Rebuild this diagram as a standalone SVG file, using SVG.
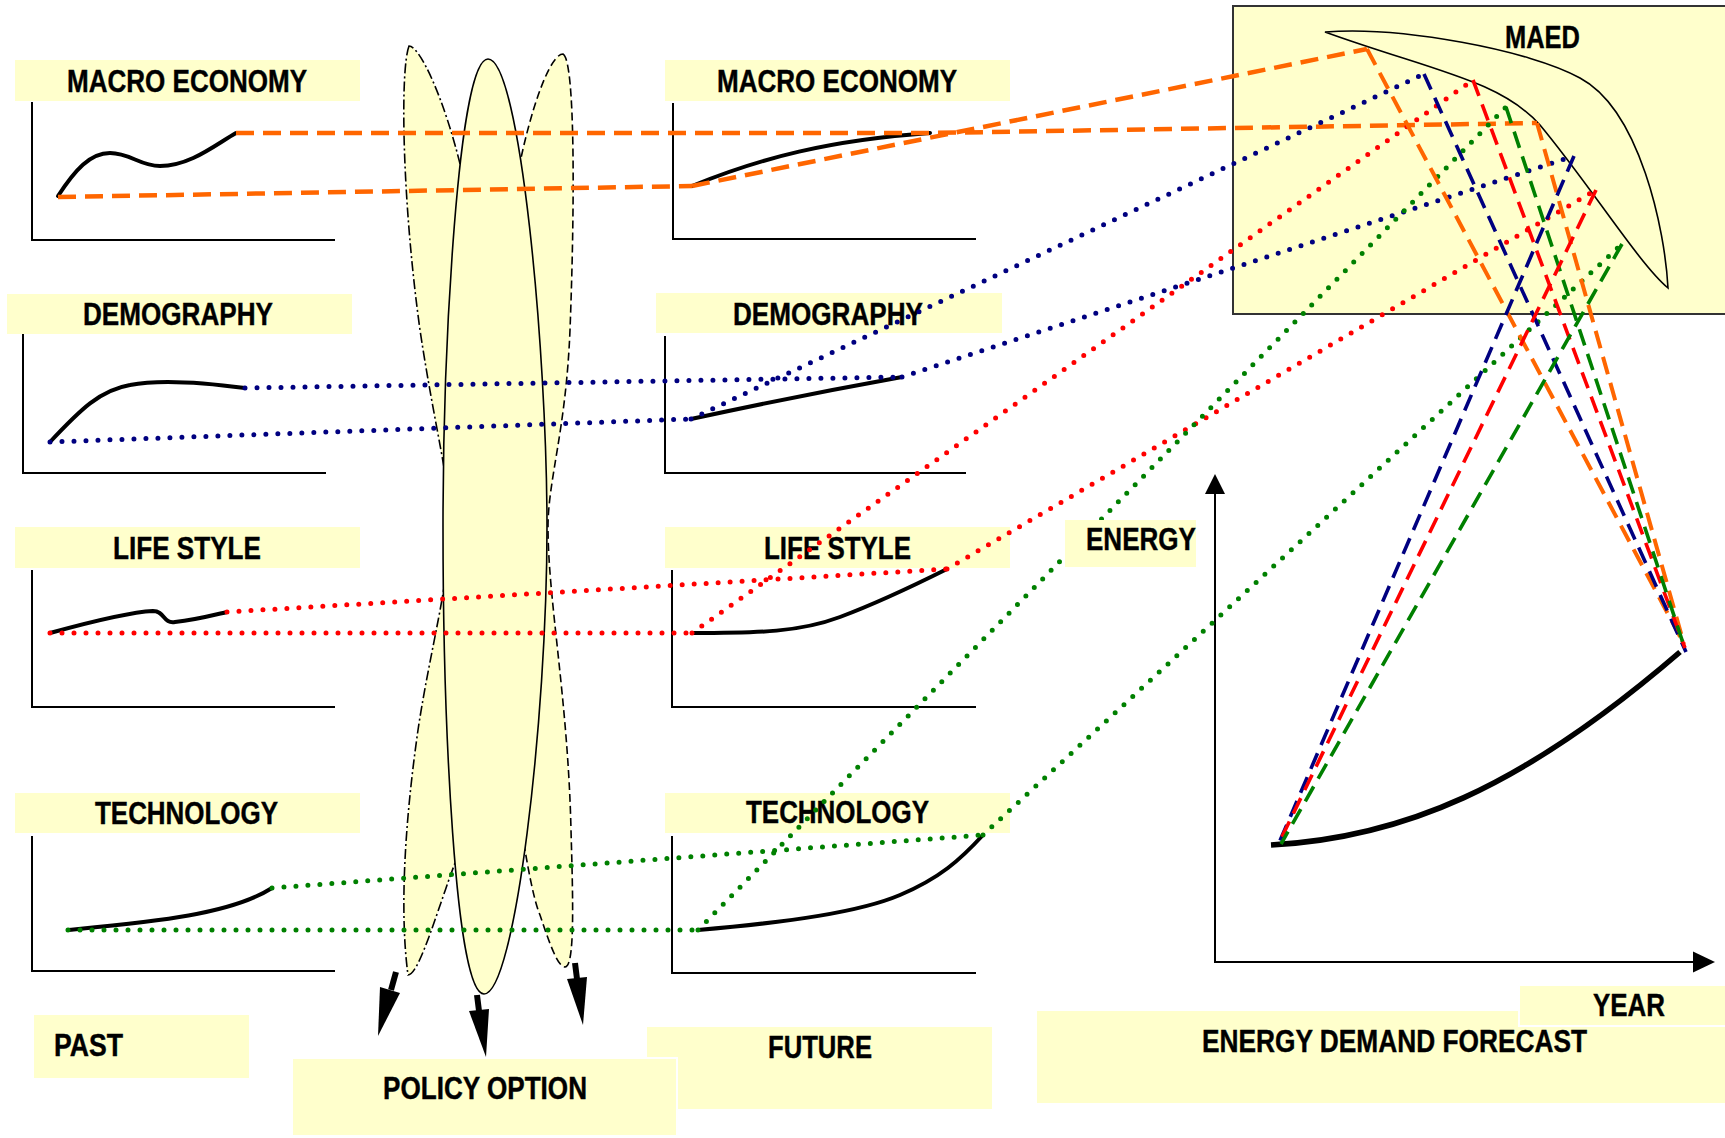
<svg xmlns="http://www.w3.org/2000/svg" width="1725" height="1138" viewBox="0 0 1725 1138">
<style>
.box{fill:#FFFFCC}
.wbox{fill:#FFFFCC;stroke:#FFFFFF;stroke-width:2}
.t{font-family:"Liberation Sans",Arial,sans-serif;font-weight:bold;font-size:31px;fill:#000;stroke:#000;stroke-width:0.4}
.ax{stroke:#000;stroke-width:2;fill:none}
.cv{stroke:#000;stroke-width:4;fill:none;stroke-linecap:round}
.lens{fill:#FFFFCC;stroke:#000;stroke-width:1.6}
.do{stroke:#FF6600;stroke-width:4.5;stroke-dasharray:18 9;fill:none}
.db{stroke:#000080;stroke-width:5;stroke-dasharray:0 12;stroke-linecap:round;fill:none}
.dr{stroke:#FF0000;stroke-width:5;stroke-dasharray:0 12;stroke-linecap:round;fill:none}
.dg{stroke:#008000;stroke-width:5;stroke-dasharray:0 12;stroke-linecap:round;fill:none}
.mo{stroke:#FF6600;stroke-width:4;stroke-dasharray:18 9;fill:none}
.mb{stroke:#000080;stroke-width:3.6;stroke-dasharray:17 9;fill:none}
.mr{stroke:#FF0000;stroke-width:3.6;stroke-dasharray:17 9;fill:none}
.mg{stroke:#008000;stroke-width:3.6;stroke-dasharray:17 9;fill:none}
</style>

<g id="past-macro">
<rect class="box" x="15" y="60" width="345" height="41"/>
<text class="t" x="67" y="92" textLength="240" lengthAdjust="spacingAndGlyphs">MACRO ECONOMY</text>
<path class="ax" d="M32,102 V240 H335"/>
<path class="cv" d="M58,196 C 75,170 90,153 110,153 C 130,153 140,166 160,166 C 190,166 215,145 236,133"/>
</g>
<g id="past-demography">
<rect class="box" x="7" y="294" width="345" height="40"/>
<text class="t" x="83" y="325" textLength="190" lengthAdjust="spacingAndGlyphs">DEMOGRAPHY</text>
<path class="ax" d="M23,334 V473 H326"/>
<path class="cv" d="M50,442 C 80,410 100,390 130,385 C 160,379 200,382 245,388"/>
</g>
<g id="past-lifestyle">
<rect class="box" x="15" y="527" width="345" height="41"/>
<text class="t" x="113" y="559" textLength="148" lengthAdjust="spacingAndGlyphs">LIFE STYLE</text>
<path class="ax" d="M32,570 V707 H335"/>
<path class="cv" d="M50,633 C 90,622 130,612 153,611 C 165,611 163,624 175,622 C 195,620 210,616 227,612"/>
</g>
<g id="past-technology">
<rect class="box" x="15" y="793" width="345" height="40"/>
<text class="t" x="95" y="824" textLength="183" lengthAdjust="spacingAndGlyphs">TECHNOLOGY</text>
<path class="ax" d="M32,836 V971 H335"/>
<path class="cv" d="M68,930 C 150,922 230,915 272,888"/>
</g>

<g id="future-macro">
<rect class="box" x="665" y="60" width="345" height="41"/>
<text class="t" x="717" y="92" textLength="240" lengthAdjust="spacingAndGlyphs">MACRO ECONOMY</text>
<path class="ax" d="M673,103 V239 H976"/>
<path class="cv" d="M692,186 C 760,158 830,140 930,133"/>
</g>
<g id="future-demography">
<rect class="box" x="656" y="293" width="346" height="40"/>
<text class="t" x="733" y="325" textLength="190" lengthAdjust="spacingAndGlyphs">DEMOGRAPHY</text>
<path class="ax" d="M665,336 V473 H966"/>
<path class="cv" d="M691,419 C 760,404 830,390 902,377"/>
</g>
<g id="future-lifestyle">
<rect class="box" x="665" y="527" width="345" height="41"/>
<text class="t" x="764" y="559" textLength="147" lengthAdjust="spacingAndGlyphs">LIFE STYLE</text>
<path class="ax" d="M672,570 V707 H976"/>
<path class="cv" d="M692,633 C 760,633 800,632 840,617 C 880,602 915,585 947,569"/>
</g>
<g id="future-technology">
<rect class="box" x="665" y="793" width="345" height="40"/>
<text class="t" x="746" y="823" textLength="183" lengthAdjust="spacingAndGlyphs">TECHNOLOGY</text>
<path class="ax" d="M672,836 V973 H976"/>
<path class="cv" d="M698,930 C 790,922 860,912 900,895 C 940,878 960,860 983,835"/>
</g>

<g id="policy-lenses">
<path class="lens" stroke-dasharray="10 3 2 3" d="M409,46 C 400,70 402,200 420,330 C 435,430 450,480 450,527 C 450,580 430,650 418,730 C 408,800 398,900 408,975 C 420,975 440,900 460,850 C 480,800 495,650 495,527 C 495,400 480,250 462,172 C 445,100 420,46 409,46 Z"/>
<path class="lens" stroke-dasharray="8 4" d="M563,54 C 575,60 575,200 570,330 C 566,430 548,480 548,527 C 548,600 568,700 571,830 C 573,900 575,967 565,967 C 558,967 550,945 540,915 C 525,880 500,700 500,527 C 500,400 505,250 518,173 C 530,110 550,54 563,54 Z"/>
<path class="lens" d="M488,59 C 520,59 547,350 547,527 C 547,720 515,994 484,994 C 455,994 443,720 443,527 C 443,350 458,59 488,59 Z"/>
</g>

<g id="policy-arrows" fill="#000" stroke="#000">
<line x1="396" y1="972" x2="391" y2="990" stroke-width="6"/>
<polygon points="380,987 400,993 378,1036" stroke="none"/>
<line x1="477" y1="995" x2="479" y2="1011" stroke-width="6"/>
<polygon points="469,1011 489,1009 486,1057" stroke="none"/>
<line x1="575" y1="963" x2="577" y2="979" stroke-width="6"/>
<polygon points="567,979 587,977 583,1025" stroke="none"/>
</g>

<g id="maed">
<rect x="1233" y="6" width="500" height="308" fill="#FFFFCC" stroke="#333" stroke-width="2"/>
<path d="M1325,32 C 1400,26 1530,50 1580,78 C 1640,110 1665,230 1668,288 C 1640,265 1590,185 1540,125 C 1500,80 1430,70 1325,32 Z" fill="none" stroke="#000" stroke-width="1.6"/>
<text class="t" x="1505" y="48" textLength="75" lengthAdjust="spacingAndGlyphs">MAED</text>
</g>

<g id="forecast">
<path class="ax" d="M1215,492 V962 H1695"/>
<polygon points="1215,474 1205,494 1225,494" fill="#000"/>
<polygon points="1715,962 1693,951.5 1693,972.5" fill="#000"/>
<path d="M1271,845 C 1400,838 1520,790 1680,652" fill="none" stroke="#000" stroke-width="5.5"/>
</g>

<g id="connectors">
<path class="do" d="M58,197 L692,186"/>
<path class="do" d="M236,133 L930,133 L1537,123"/>
<path class="do" d="M692,186 L1367,49"/>
<path class="db" d="M50,442 L691,419"/>
<path class="db" d="M245,388 L902,377"/>
<path class="db" d="M691,419 L1424,74"/>
<path class="db" d="M902,377 L1574,156"/>
<path class="dr" d="M50,633 L692,633"/>
<path class="dr" d="M227,612 L947,569"/>
<path class="dr" d="M692,633 L1473,80"/>
<path class="dr" d="M947,569 L1596,190"/>
<path class="dg" d="M68,930 L698,930"/>
<path class="dg" d="M272,888 L983,835"/>
<path class="dg" d="M698,930 L1506,107"/>
<path class="dg" d="M983,835 L1622,244"/>
<path class="mo" d="M1367,49 L1684,644"/>
<path class="mo" d="M1537,123 L1684,644"/>
<path class="mb" d="M1424,74 L1686,652"/>
<path class="mr" d="M1473,80 L1685,648"/>
<path class="mg" d="M1506,107 L1684,646"/>
<path class="mb" d="M1574,156 L1279,843"/>
<path class="mr" d="M1596,190 L1279,843"/>
<path class="mg" d="M1622,244 L1281,844"/>
</g>

<g id="label-energy">
<rect class="box" x="1065" y="520" width="131" height="47"/>
<text class="t" x="1086" y="550" textLength="110" lengthAdjust="spacingAndGlyphs">ENERGY</text>
</g>
<g id="label-past">
<rect class="box" x="34" y="1015" width="215" height="63"/>
<text class="t" x="54" y="1056" textLength="69" lengthAdjust="spacingAndGlyphs">PAST</text>
</g>
<g id="label-future">
<rect class="box" x="647" y="1027" width="345" height="82"/>
<text class="t" x="768" y="1058" textLength="104" lengthAdjust="spacingAndGlyphs">FUTURE</text>
</g>
<g id="label-policy">
<rect class="wbox" x="292" y="1058" width="385" height="78"/>
<text class="t" x="383" y="1099" textLength="204" lengthAdjust="spacingAndGlyphs">POLICY OPTION</text>
</g>
<g id="label-forecast">
<rect class="box" x="1037" y="1011" width="690" height="92"/>
<text class="t" x="1202" y="1052" textLength="385" lengthAdjust="spacingAndGlyphs">ENERGY DEMAND FORECAST</text>
</g>
<g id="label-year">
<rect class="wbox" x="1519" y="985" width="210" height="41"/>
<text class="t" x="1593" y="1016" textLength="72" lengthAdjust="spacingAndGlyphs">YEAR</text>
</g>
</svg>
